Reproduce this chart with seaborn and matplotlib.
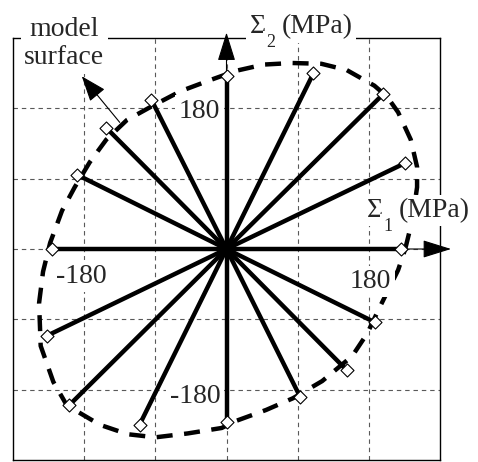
import numpy as np
import pandas as pd
import seaborn as sns
import matplotlib.pyplot as plt

# end points of the 16 radial loading paths (MPa)
path_x = [0, 110, 198, 226, 221, 188, 152, 93, 0, -110, -199, -227, -221, -189, -152, -95]
path_y = [221, 225, 198, 110, 0, -94, -155, -189, -221, -225, -200, -111, 0, 95, 155, 191]

# model surface (MPa), counter-clockwise from the Sigma1 axis
surf_x = [226, 235, 241, 241, 233, 217, 203, 187, 152, 120, 83, 47, 12, -21, -58, -92,
          -126, -152, -173, -192, -208, -223, -232, -237, -235, -219, -202, -160, -125,
          -90, -49, -6, 12, 50, 84, 121, 159, 178, 195, 217]
surf_y = [0, 37, 79, 105, 140, 175, 195, 209, 229, 237, 238, 236, 228, 216, 202, 184,
          165, 140, 111, 79, 49, 8, -29, -69, -124, -170, -200, -225, -237, -241, -236,
          -229, -220, -206, -191, -169, -137, -108, -72, -27]

grid_ticks = [-180, -90, 0, 90, 180]
lim = 270

sns.set_style('white')
plt.rcParams['font.family'] = ['Liberation Serif', 'DejaVu Serif']

fig = plt.figure(figsize=(4.78, 4.62), dpi=100)
ax = fig.add_axes([13 / 478, 2 / 462, 427 / 478, 422 / 462])

ax.set_xlim(-lim, lim)
ax.set_ylim(-lim, lim)
ax.set_xticks(grid_ticks)
ax.set_yticks(grid_ticks)
ax.set_xticklabels([])
ax.set_yticklabels([])
ax.tick_params(length=0)
ax.grid(True, color='0.35', lw=0.8, ls=(0, (4, 3.5)))
for s in ax.spines.values():
    s.set_visible(True)
    s.set_color('black')
    s.set_linewidth(1)

# radial paths from the origin
rays = pd.DataFrame({
    'path': np.repeat(np.arange(len(path_x)), 2),
    'x': np.ravel([[0, v] for v in path_x]),
    'y': np.ravel([[0, v] for v in path_y]),
})
sns.lineplot(data=rays, x='x', y='y', units='path', estimator=None, sort=False,
             color='black', lw=3.2, legend=False, ax=ax)

# model surface (closed dashed curve)
sns.lineplot(x=surf_x + surf_x[:1], y=surf_y + surf_y[:1], sort=False, estimator=None,
             color='black', lw=3.2, ls=(0, (3.6, 2.6)), ax=ax)

sns.scatterplot(x=path_x, y=path_y, marker='D', s=44, color='white',
                edgecolor='black', linewidth=0.8, zorder=4, ax=ax)
ax.set_xlabel('')
ax.set_ylabel('')

# axis arrows
head = dict(arrowstyle='-|>,head_length=0.9,head_width=0.28', lw=0.8, color='black',
            shrinkA=0, shrinkB=0, mutation_scale=20)
ax.annotate('', xy=(284, 0), xytext=(path_x[4], 0), arrowprops=head, annotation_clip=False)
ax.annotate('', xy=(0, 277), xytext=(0, path_y[0]), arrowprops=head, annotation_clip=False)
ax.annotate('', xy=(-183, 221), xytext=(-135, 162),
            arrowprops=dict(head, arrowstyle='-|>,head_length=0.8,head_width=0.3'),
            annotation_clip=False)

box = dict(facecolor='white', edgecolor='none', pad=2.5)
fs = 20

ax.text(-8, 168, '180', ha='right', va='baseline', fontsize=fs, bbox=box, zorder=6)
ax.text(-8, -197, '-180', ha='right', va='baseline', fontsize=fs, bbox=box, zorder=6)
ax.text(-216, -43, '-180', ha='left', va='baseline', fontsize=fs, bbox=box, zorder=6)
ax.text(156, -50, '180', ha='left', va='baseline', fontsize=fs, bbox=box, zorder=6)

ax.text(-205, 263, 'model\nsurface', ha='center', va='center', fontsize=fs,
        linespacing=1.2, bbox=box, zorder=6)


def sigma_label(x, y, idx):
    ax.text(x, y, 'Σ', ha='left', va='baseline', fontsize=fs, bbox=box, zorder=6)
    ax.annotate(idx, (x, y), xytext=(12, -10), textcoords='offset points',
                ha='left', va='baseline', fontsize=13, bbox=box, zorder=6,
                annotation_clip=False)
    ax.annotate('(MPa)', (x, y), xytext=(23.5, 0), textcoords='offset points',
                ha='left', va='baseline', fontsize=fs, bbox=box, zorder=6,
                annotation_clip=False)


sigma_label(29, 276, '2')
sigma_label(177, 41, '1')

fig.savefig('out.png', dpi=100)
